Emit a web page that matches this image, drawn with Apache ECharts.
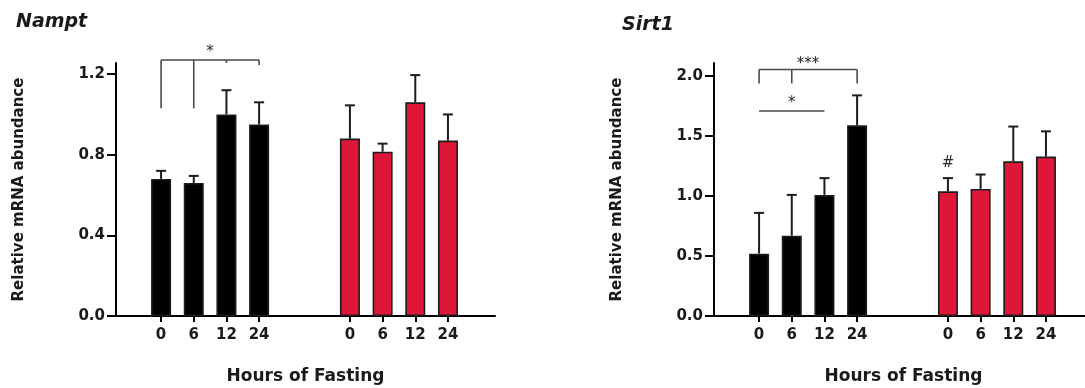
<!DOCTYPE html>
<html>
<head>
<meta charset="utf-8">
<title>Nampt and Sirt1 mRNA abundance during fasting</title>
<script src="https://cdn.jsdelivr.net/npm/echarts@6.0.0/dist/echarts.min.js"></script>
<style>
  html, body { margin: 0; padding: 0; background: #fff; }
  #chart { width: 1085px; height: 388px; }
</style>
</head>
<body>
<div id="chart"></div>
<script>
// Hours of fasting (tick labels under each bar)
const hours = ['0', '6', '12', '24'];

// Y axis tick values
const namptTicks = [0, 0.4, 0.8, 1.2];
const sirt1Ticks = [0, 0.5, 1.0, 1.5, 2.0];

// Nampt: mean and SEM, black and red groups
const namptBlackMean = [0.68, 0.66, 1.00, 0.95];
const namptBlackSem  = [0.04, 0.035, 0.12, 0.11];
const namptRedMean   = [0.88, 0.815, 1.06, 0.87];
const namptRedSem    = [0.165, 0.04, 0.135, 0.13];

// Sirt1: mean and SEM, black and red groups
const sirt1BlackMean = [0.52, 0.67, 1.01, 1.59];
const sirt1BlackSem  = [0.34, 0.34, 0.14, 0.25];
const sirt1RedMean   = [1.04, 1.06, 1.29, 1.33];
const sirt1RedSem    = [0.11, 0.12, 0.29, 0.21];

// Significance marks (y levels in data units)
const namptMarks = [
  { group: 0, y: 1.27, legs: [[0, 1.03], [1, 1.03], [2, 1.255], [3, 1.245]], text: '*', textY: 1.31 }
];
const sirt1Marks = [
  { group: 0, y: 2.056, legs: [[0, 1.94], [1, 1.94], [3, 1.94]], text: '***', textY: 2.1 },
  { group: 0, y: 1.71, span: [0, 2], legs: [], text: '*', textY: 1.775 },
  { group: 1, span: [0, 0], legs: [], text: '#', textY: 1.275, noLine: true }
];

// Layout along the x value axis (one unit = one bar step)
const LEAD = 1.38, GROUP_STEP = 5.78, X_SPAN = 11.6;
const pos = (g, i) => LEAD + g * GROUP_STEP + i;

const BLACK = '#000000';
const RED = '#DE1738';
const INK = '#1a1a1a';
const FONT = 'DejaVu Sans';

const tickPositions = [0, 1].flatMap(g => hours.map((_, i) => pos(g, i)));
const tickLabelOf = {};
[0, 1].forEach(g => hours.forEach((h, i) => { tickLabelOf[pos(g, i).toFixed(3)] = h; }));

function xAxis(gridIndex) {
  return {
    type: 'value', gridIndex, min: 0, max: X_SPAN,
    name: 'Hours of Fasting', nameLocation: 'middle', nameGap: 52,
    nameTextStyle: { fontFamily: FONT, fontWeight: 'bold', fontSize: 17, color: INK },
    splitLine: { show: false },
    axisLine: { show: true, lineStyle: { color: BLACK, width: 2 } },
    axisTick: { show: true, customValues: tickPositions, length: 6, lineStyle: { color: BLACK, width: 2 } },
    axisLabel: {
      customValues: tickPositions, margin: 12,
      fontFamily: FONT, fontWeight: 'bold', fontSize: 15, color: INK,
      formatter: v => tickLabelOf[Number(v).toFixed(3)] || ''
    }
  };
}

function yAxis(gridIndex, max, ticks) {
  return {
    type: 'value', gridIndex, min: 0, max,
    name: 'Relative mRNA abundance', nameLocation: 'middle', nameGap: 89, nameRotate: 90,
    nameTextStyle: { fontFamily: FONT, fontWeight: 'bold', fontSize: 15, color: INK },
    splitLine: { show: false },
    axisLine: { show: true, lineStyle: { color: BLACK, width: 2 } },
    axisTick: { show: true, customValues: ticks, length: 9, lineStyle: { color: BLACK, width: 2 } },
    axisLabel: {
      customValues: ticks, margin: 11,
      fontFamily: FONT, fontWeight: 'bold', fontSize: 15, color: INK,
      formatter: v => Number(v).toFixed(1)
    }
  };
}

// One bar series per panel so the bars sit exactly on their tick positions
function barSeries(axisIndex, blackMeans, redMeans) {
  const items = [];
  blackMeans.forEach((m, i) => items.push({ value: [pos(0, i), m], itemStyle: { color: BLACK } }));
  redMeans.forEach((m, i) => items.push({ value: [pos(1, i), m], itemStyle: { color: RED } }));
  return {
    type: 'bar', xAxisIndex: axisIndex, yAxisIndex: axisIndex,
    barWidth: 20, z: 2,
    itemStyle: { borderColor: '#1c1c1c', borderWidth: 1.6 },
    data: items
  };
}

function errorSeries(axisIndex, group, means, sems) {
  return {
    type: 'custom', xAxisIndex: axisIndex, yAxisIndex: axisIndex, z: 3, silent: true,
    data: means.map((m, i) => [pos(group, i), m, sems[i]]),
    renderItem(params, api) {
      const x = api.value(0), m = api.value(1), s = api.value(2);
      const base = api.coord([x, m]);
      const top = api.coord([x, m + s]);
      const style = { stroke: '#1c1c1c', lineWidth: 2 };
      return {
        type: 'group',
        children: [
          { type: 'line', shape: { x1: top[0], y1: top[1], x2: base[0], y2: base[1] }, style },
          { type: 'line', shape: { x1: top[0] - 5, y1: top[1], x2: top[0] + 5, y2: top[1] }, style }
        ]
      };
    }
  };
}

function markSeries(axisIndex, marks) {
  return {
    type: 'custom', xAxisIndex: axisIndex, yAxisIndex: axisIndex, z: 4, silent: true, clip: false,
    data: marks.map(m => [pos(m.group, 0), m.textY]),
    renderItem(params, api) {
      const m = marks[params.dataIndex];
      const lineStyle = { stroke: '#4a4a4a', lineWidth: 1.6 };
      const children = [];
      const idx = m.legs.map(l => l[0]);
      const from = m.span ? m.span[0] : Math.min(...idx);
      const to = m.span ? m.span[1] : Math.max(...idx);
      if (!m.noLine) {
        const a = api.coord([pos(m.group, from), m.y]);
        const b = api.coord([pos(m.group, to), m.y]);
        children.push({ type: 'line', shape: { x1: a[0], y1: a[1], x2: b[0], y2: b[1] }, style: lineStyle });
        m.legs.forEach(([i, lo]) => {
          const p = api.coord([pos(m.group, i), m.y]);
          const q = api.coord([pos(m.group, i), lo]);
          children.push({ type: 'line', shape: { x1: p[0], y1: p[1], x2: q[0], y2: q[1] }, style: lineStyle });
        });
      }
      const cx = (pos(m.group, from) + pos(m.group, to)) / 2;
      const t = api.coord([cx, m.textY]);
      children.push({
        type: 'text',
        style: {
          text: m.text, x: t[0], y: t[1], align: 'center', verticalAlign: 'middle',
          fontFamily: FONT, fontSize: 15, fill: '#2a2a2a'
        }
      });
      return { type: 'group', children };
    }
  };
}

const chart = echarts.init(document.getElementById('chart'), null, { renderer: 'canvas' });

chart.setOption({
  animation: false,
  backgroundColor: '#ffffff',
  title: [
    { text: 'Nampt', left: 11, top: 8,
      textStyle: { fontFamily: FONT, fontWeight: 'bold', fontStyle: 'italic', fontSize: 19, color: INK } },
    { text: 'Sirt1', left: 617, top: 11,
      textStyle: { fontFamily: FONT, fontWeight: 'bold', fontStyle: 'italic', fontSize: 19, color: INK } }
  ],
  grid: [
    { left: 116, top: 63, width: 379, height: 253, containLabel: false, outerBoundsMode: 'none' },
    { left: 714, top: 63, width: 379, height: 253, containLabel: false, outerBoundsMode: 'none' }
  ],
  xAxis: [xAxis(0), xAxis(1)],
  yAxis: [yAxis(0, 1.255, namptTicks), yAxis(1, 2.11, sirt1Ticks)],
  series: [
    barSeries(0, namptBlackMean, namptRedMean),
    errorSeries(0, 0, namptBlackMean, namptBlackSem),
    errorSeries(0, 1, namptRedMean, namptRedSem),
    markSeries(0, namptMarks),
    barSeries(1, sirt1BlackMean, sirt1RedMean),
    errorSeries(1, 0, sirt1BlackMean, sirt1BlackSem),
    errorSeries(1, 1, sirt1RedMean, sirt1RedSem),
    markSeries(1, sirt1Marks)
  ]
});
</script>
</body>
</html>
